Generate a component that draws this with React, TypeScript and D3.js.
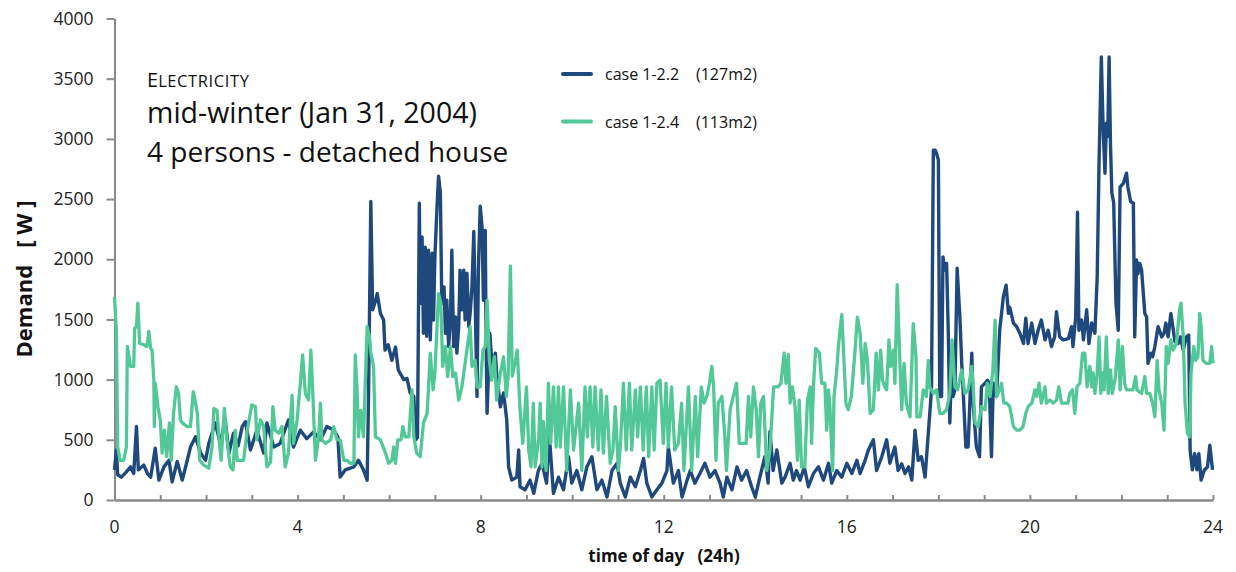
import React, { useRef, useEffect } from "react";
import { select, scaleLinear, line, axisLeft, axisBottom } from "d3";

// hour of day, demand in W
const case22: [number, number][] = [
  [0.00,250],[0.04,415],[0.07,210],[0.15,190],[0.25,230],[0.35,275],[0.42,220],[0.48,610],[0.52,250],[0.64,290],
  [0.72,220],[0.79,190],[0.89,430],[0.97,165],[1.08,275],[1.19,330],[1.26,150],[1.37,320],[1.48,165],[1.59,330],
  [1.66,440],[1.77,525],[1.88,390],[1.99,330],[2.06,470],[2.20,640],[2.31,470],[2.42,665],[2.50,390],[2.60,555],
  [2.70,450],[2.79,610],[2.86,650],[2.97,415],[3.11,580],[3.26,390],[3.33,640],[3.48,440],[3.62,470],[3.80,665],
  [3.91,440],[4.06,580],[4.20,510],[4.35,565],[4.50,500],[4.64,610],[4.79,580],[4.88,525],[4.93,190],[5.04,250],
  [5.23,275],[5.33,330],[5.44,250],[5.52,165],[5.55,860],[5.60,2480],[5.64,1580],[5.70,1650],[5.74,1715],[5.81,1550],
  [5.88,1495],[5.91,1245],[5.98,1290],[6.06,1160],[6.14,1270],[6.20,1080],[6.32,1000],[6.39,1010],[6.46,890],[6.54,860],
  [6.58,500],[6.62,520],[6.66,2465],[6.68,1635],[6.72,2185],[6.75,1385],[6.79,2100],[6.82,1360],[6.86,2075],[6.90,1330],
  [6.94,2050],[6.97,1495],[7.00,2020],[7.05,2465],[7.08,2690],[7.12,2550],[7.15,1635],[7.20,1770],[7.23,1385],[7.26,1660],
  [7.30,1275],[7.34,1495],[7.37,2075],[7.41,1275],[7.45,1520],[7.48,1220],[7.52,1440],[7.55,1910],[7.59,1580],[7.63,1910],
  [7.66,1495],[7.70,1885],[7.74,1440],[7.77,1550],[7.81,1770],[7.85,2230],[7.88,1660],[7.92,860],[7.95,1910],[7.99,2440],
  [8.03,2270],[8.06,1660],[8.10,2240],[8.12,1275],[8.14,720],[8.20,1385],[8.25,1110],[8.32,1220],[8.35,1050],[8.43,775],
  [8.50,890],[8.57,665],[8.61,275],[8.68,165],[8.79,190],[8.83,415],[8.86,110],[8.97,85],[9.08,165],[9.16,55],
  [9.26,245],[9.34,305],[9.44,140],[9.50,540],[9.59,55],[9.70,190],[9.81,85],[9.92,360],[9.99,140],[10.10,245],
  [10.21,85],[10.32,275],[10.43,360],[10.54,85],[10.65,165],[10.76,25],[10.87,245],[10.98,305],[11.05,140],[11.16,25],
  [11.27,190],[11.38,110],[11.49,245],[11.56,345],[11.63,140],[11.74,25],[11.85,85],[11.96,140],[12.07,245],[12.10,440],
  [12.21,140],[12.32,245],[12.40,25],[12.51,165],[12.58,245],[12.68,140],[12.79,220],[12.90,305],[13.01,190],[13.12,245],
  [13.23,140],[13.30,25],[13.38,190],[13.49,85],[13.60,275],[13.70,165],[13.81,245],[13.92,110],[14.00,25],[14.10,190],
  [14.21,360],[14.28,140],[14.32,570],[14.39,245],[14.47,415],[14.58,140],[14.65,190],[14.76,305],[14.83,165],[14.90,245],
  [14.98,165],[15.07,275],[15.16,110],[15.27,220],[15.38,275],[15.49,165],[15.60,305],[15.67,140],[15.78,245],[15.89,190],
  [16.00,305],[16.11,220],[16.22,330],[16.29,220],[16.40,330],[16.47,415],[16.58,500],[16.65,245],[16.76,355],[16.87,500],
  [16.94,305],[17.05,440],[17.12,245],[17.20,300],[17.27,220],[17.35,275],[17.42,165],[17.49,580],[17.56,330],[17.63,360],
  [17.71,190],[17.78,555],[17.85,915],[17.89,2905],[17.93,2905],[17.96,2880],[18.00,2825],[18.03,860],[18.07,860],[18.10,2020],
  [18.14,1910],[18.18,1965],[18.22,1330],[18.25,640],[18.29,1135],[18.32,860],[18.36,915],[18.41,1925],[18.47,1520],[18.51,1135],
  [18.54,915],[18.60,440],[18.65,440],[18.73,1220],[18.76,805],[18.83,440],[18.90,360],[18.94,940],[19.02,970],[19.07,995],
  [19.11,970],[19.16,360],[19.20,970],[19.27,860],[19.34,1410],[19.42,1690],[19.48,1785],[19.53,1550],[19.56,1600],[19.64,1470],
  [19.71,1440],[19.78,1385],[19.86,1300],[19.91,1510],[19.96,1300],[20.04,1470],[20.11,1300],[20.18,1410],[20.25,1495],[20.33,1330],
  [20.40,1410],[20.47,1275],[20.54,1355],[20.58,1565],[20.65,1355],[20.73,1330],[20.84,1340],[20.91,1440],[20.94,1275],[21.00,1520],
  [21.04,2390],[21.07,1410],[21.13,1495],[21.17,1330],[21.24,1580],[21.29,1300],[21.35,1470],[21.42,1385],[21.47,1855],[21.51,2795],
  [21.56,3680],[21.60,3075],[21.64,2715],[21.67,3130],[21.70,3020],[21.73,3680],[21.76,2955],[21.79,2550],[21.83,2470],[21.88,1635],
  [21.93,1410],[21.97,2600],[22.04,2630],[22.11,2715],[22.14,2600],[22.20,2480],[22.26,2465],[22.29,1355],[22.33,1995],[22.36,1880],
  [22.40,1965],[22.44,1910],[22.51,1550],[22.55,1520],[22.58,1135],[22.64,1220],[22.68,1190],[22.73,1275],[22.80,1440],[22.88,1355],
  [22.93,1385],[22.97,1470],[23.02,1355],[23.08,1550],[23.17,1315],[23.24,1300],[23.29,1355],[23.35,1245],[23.42,1355],[23.47,1370],
  [23.50,415],[23.55,250],[23.60,385],[23.65,250],[23.69,385],[23.74,165],[23.81,250],[23.88,275],[23.93,455],[23.99,250],
];

const case24: [number, number][] = [
  [0.00,1690],[0.04,1410],[0.07,440],[0.12,330],[0.20,330],[0.26,440],[0.28,1275],[0.35,1110],[0.42,1110],[0.44,1425],
  [0.48,1440],[0.51,1635],[0.55,1300],[0.64,1290],[0.71,1275],[0.75,1400],[0.79,1260],[0.82,1245],[0.86,995],[0.87,610],
  [0.89,970],[0.95,775],[1.00,665],[1.04,390],[1.09,580],[1.14,360],[1.20,640],[1.24,330],[1.29,720],[1.35,940],
  [1.40,885],[1.44,665],[1.48,640],[1.59,610],[1.66,610],[1.72,900],[1.77,805],[1.81,720],[1.86,330],[1.95,290],
  [2.06,265],[2.13,440],[2.17,760],[2.24,745],[2.28,525],[2.33,330],[2.40,760],[2.45,525],[2.53,275],[2.59,250],
  [2.64,580],[2.68,330],[2.75,330],[2.82,330],[2.90,580],[3.00,790],[3.08,775],[3.11,500],[3.19,665],[3.26,610],
  [3.33,275],[3.41,315],[3.46,775],[3.51,580],[3.59,555],[3.66,610],[3.73,275],[3.80,390],[3.88,870],[3.91,470],
  [3.99,665],[4.06,970],[4.11,1205],[4.17,885],[4.20,860],[4.24,830],[4.29,1245],[4.33,915],[4.39,330],[4.46,525],
  [4.50,805],[4.53,500],[4.61,470],[4.72,500],[4.79,610],[4.86,500],[4.93,500],[5.01,330],[5.08,330],[5.15,305],
  [5.23,305],[5.26,1205],[5.30,915],[5.33,525],[5.38,745],[5.44,525],[5.52,1440],[5.57,1355],[5.60,1220],[5.66,1110],
  [5.70,525],[5.81,500],[5.92,390],[5.99,305],[6.06,330],[6.10,440],[6.14,305],[6.19,500],[6.26,500],[6.30,610],
  [6.35,525],[6.43,525],[6.50,915],[6.54,525],[6.60,390],[6.68,360],[6.75,640],[6.83,720],[6.90,1220],[6.96,915],
  [7.00,1055],[7.08,1715],[7.13,1635],[7.17,1110],[7.23,1275],[7.28,1025],[7.34,1275],[7.39,1025],[7.45,1055],[7.52,830],
  [7.59,940],[7.66,1135],[7.71,1275],[7.77,1440],[7.81,1110],[7.88,1160],[7.92,940],[7.99,940],[8.05,1245],[8.10,1275],
  [8.14,1660],[8.19,1160],[8.24,995],[8.30,1190],[8.35,830],[8.43,1055],[8.50,1190],[8.56,860],[8.60,1030],[8.65,1945],
  [8.69,1030],[8.76,1160],[8.80,1245],[8.86,750],[8.92,470],[9.00,940],[9.05,415],[9.10,275],[9.15,805],[9.19,275],
  [9.27,525],[9.30,805],[9.34,275],[9.37,650],[9.43,245],[9.48,970],[9.53,470],[9.59,940],[9.65,440],[9.70,940],
  [9.74,440],[9.81,940],[9.88,245],[9.96,915],[10.03,415],[10.14,805],[10.21,245],[10.28,940],[10.33,525],[10.39,940],
  [10.45,440],[10.50,940],[10.57,415],[10.63,915],[10.68,390],[10.75,860],[10.83,305],[10.89,415],[10.94,775],[11.01,245],
  [11.06,500],[11.12,970],[11.18,415],[11.25,970],[11.30,415],[11.38,915],[11.43,525],[11.49,940],[11.55,415],[11.62,940],
  [11.67,360],[11.74,940],[11.79,415],[11.85,970],[11.92,995],[11.99,470],[12.05,970],[12.10,440],[12.17,940],[12.24,415],
  [12.32,470],[12.39,805],[12.44,245],[12.54,940],[12.61,245],[12.69,860],[12.74,360],[12.82,940],[12.88,805],[12.94,860],
  [13.00,970],[13.05,1110],[13.09,940],[13.14,330],[13.19,805],[13.27,860],[13.33,555],[13.37,245],[13.45,750],[13.52,860],
  [13.59,970],[13.65,470],[13.74,470],[13.80,470],[13.85,860],[13.90,525],[13.96,940],[14.02,750],[14.07,360],[14.12,805],
  [14.18,860],[14.25,245],[14.32,415],[14.40,940],[14.50,940],[14.56,970],[14.63,1220],[14.67,970],[14.72,1210],[14.76,805],
  [14.81,940],[14.87,775],[14.92,330],[14.96,830],[15.01,275],[15.08,275],[15.14,830],[15.20,940],[15.23,470],[15.27,940],
  [15.32,1260],[15.40,1220],[15.45,970],[15.52,970],[15.56,580],[15.60,915],[15.63,775],[15.69,245],[15.72,860],[15.78,1080],
  [15.81,1245],[15.85,1410],[15.89,1540],[15.92,1300],[15.98,805],[16.03,750],[16.10,860],[16.18,1245],[16.23,1520],[16.29,1385],
  [16.35,970],[16.40,1300],[16.45,1160],[16.51,720],[16.58,750],[16.64,1220],[16.69,915],[16.74,1245],[16.78,995],[16.83,940],
  [16.87,915],[16.92,1330],[16.96,1110],[17.02,1245],[17.05,970],[17.10,1790],[17.15,1245],[17.20,750],[17.25,1135],[17.30,805],
  [17.38,690],[17.45,1465],[17.51,1190],[17.53,690],[17.60,690],[17.67,915],[17.74,860],[17.78,1160],[17.81,940],[17.89,885],
  [17.96,915],[18.03,720],[18.10,720],[18.18,750],[18.25,885],[18.30,1330],[18.36,940],[18.42,915],[18.51,1080],[18.58,885],
  [18.65,915],[18.73,1110],[18.76,940],[18.80,640],[18.87,610],[18.94,775],[19.02,750],[19.07,970],[19.13,860],[19.19,1080],
  [19.24,1495],[19.27,860],[19.34,915],[19.38,970],[19.43,805],[19.49,805],[19.56,775],[19.64,610],[19.71,580],[19.78,580],
  [19.85,610],[19.91,720],[19.96,775],[20.04,805],[20.11,915],[20.15,860],[20.20,970],[20.25,805],[20.33,940],[20.36,805],
  [20.44,830],[20.51,805],[20.58,830],[20.63,940],[20.69,805],[20.76,805],[20.83,805],[20.87,885],[20.93,915],[20.98,720],
  [21.03,940],[21.09,970],[21.15,1220],[21.20,1220],[21.25,940],[21.31,1110],[21.35,940],[21.38,1055],[21.42,885],[21.47,1055],
  [21.51,1355],[21.55,885],[21.59,1055],[21.62,915],[21.67,1355],[21.71,885],[21.76,1080],[21.80,885],[21.86,1000],[21.89,1135],
  [21.93,1330],[21.97,915],[22.02,1275],[22.07,970],[22.11,915],[22.25,915],[22.31,1025],[22.34,915],[22.44,885],[22.51,1025],
  [22.55,885],[22.62,885],[22.68,805],[22.73,690],[22.78,1160],[22.82,915],[22.88,805],[22.93,580],[22.98,1275],[23.02,1135],
  [23.08,1330],[23.13,1245],[23.20,1300],[23.27,1580],[23.30,1635],[23.35,1355],[23.39,805],[23.44,555],[23.49,525],[23.52,1055],
  [23.58,1275],[23.62,1160],[23.67,1190],[23.71,1550],[23.74,1440],[23.78,1160],[23.85,1135],[23.93,1135],[23.97,1275],[24.00,1135],
];

const seriesNames = ["case 1-2.2", "case 1-2.4"];
const seriesAreas = ["(127m2)", "(113m2)"];
const yTicks = [0, 500, 1000, 1500, 2000, 2500, 3000, 3500, 4000];
const xLabelTicks = [0, 4, 8, 12, 16, 20, 24];
const hourTicks = [0,1,2,3,4,5,6,7,8,9,10,11,12,13,14,15,16,17,18,19,20,21,22,23,24];

const BLUE = "#1f497d";
const GREEN = "#52c897";
const AXIS = "#8a8a8a";
const FONT = "'Open Sans', Lato, sans-serif";

export default function App() {
  const ref = useRef<SVGGElement>(null);

  useEffect(() => {
    const svg = select(ref.current);
    svg.selectAll("*").remove();

    const x = scaleLinear().domain([0, 24]).range([114.5, 1213]);
    const y = scaleLinear().domain([0, 4000]).range([500, 18.5]);

    // y axis, ticks outside
    const gy = svg.append("g").attr("transform", "translate(114.5,0)")
      .call(axisLeft(y).tickValues(yTicks).tickSize(8).tickSizeOuter(0).tickPadding(13)
        .tickFormat(d => String(d)));
    gy.select(".domain").attr("stroke", AXIS).attr("stroke-width", 2);
    gy.selectAll(".tick line").attr("stroke", AXIS).attr("stroke-width", 2);
    gy.selectAll("text").attr("font-family", FONT).attr("font-size", 17.5).attr("fill", "#222");

    // x axis: hourly ticks pointing up, labels every 4h
    const gx = svg.append("g").attr("transform", "translate(0,500)")
      .call(axisBottom(x).tickValues(hourTicks).tickSize(-5).tickSizeOuter(0).tickFormat(() => ""));
    gx.select(".domain").attr("stroke", AXIS).attr("stroke-width", 2.5);
    gx.selectAll(".tick line").attr("stroke", AXIS).attr("stroke-width", 2);

    svg.append("g").selectAll("text").data(xLabelTicks).join("text")
      .attr("x", d => x(d)).attr("y", 533)
      .attr("text-anchor", "middle")
      .attr("font-family", FONT).attr("font-size", 17.5).attr("fill", "#222")
      .text(d => d);

    const myLine = line<[number, number]>().x(d => x(d[0])).y(d => y(d[1]));

    svg.append("path").datum(case22)
      .attr("d", myLine).attr("fill", "none").attr("stroke", BLUE)
      .attr("stroke-width", 3.4).attr("stroke-linejoin", "round");
    svg.append("path").datum(case24)
      .attr("d", myLine).attr("fill", "none").attr("stroke", GREEN)
      .attr("stroke-width", 3.3).attr("stroke-linejoin", "round");

    // legend
    const legend = svg.append("g");
    [BLUE, GREEN].forEach((c, i) => {
      const ly = 74 + i * 47.5;
      legend.append("line").attr("x1", 563).attr("x2", 591).attr("y1", ly).attr("y2", ly)
        .attr("stroke", c).attr("stroke-width", 4).attr("stroke-linecap", "round");
      legend.append("text").attr("x", 605).attr("y", ly + 6)
        .attr("font-family", FONT).attr("font-size", 16).attr("fill", "#111")
        .text(seriesNames[i]);
      legend.append("text").attr("x", 696).attr("y", ly + 6)
        .attr("font-family", FONT).attr("font-size", 16).attr("fill", "#111")
        .text(seriesAreas[i]);
    });
  }, []);

  return (
    <svg width={1236} height={572}
      style={{ position: "absolute", left: 0, top: 0, background: "#fff" }}>
      <g ref={ref} />
      <g fontFamily={FONT} fill="#111">
        <text x={147} y={87}>
          <tspan fontSize={20}>E</tspan>
          <tspan fontSize={16.5} letterSpacing={0.6}>LECTRICITY</tspan>
        </text>
        <text x={147} y={123} fontSize={28.5}>mid-winter (Jan 31, 2004)</text>
        <text x={147} y={162} fontSize={28}>4 persons - detached house</text>
        <text x={664} y={562} fontSize={17} fontWeight="bold" textAnchor="middle"
          style={{ whiteSpace: "pre" }}>{"time of day   (24h)"}</text>
        <text transform="translate(32,279) rotate(-90)" fontSize={22} fontWeight="bold"
          textAnchor="middle" style={{ whiteSpace: "pre" }}>{"Demand   [ W ]"}</text>
      </g>
    </svg>
  );
}
